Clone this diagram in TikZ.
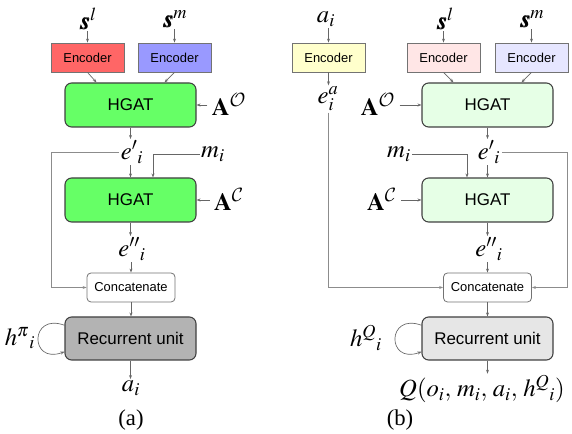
\documentclass[tikz,border=0pt]{standalone}
\usepackage{amsmath}
\usepackage{mathptmx}
\usepackage{bm}
\DeclareMathAlphabet{\mathcal}{OMS}{cmsy}{m}{n}
\usepackage{fontspec}
\setmainfont{Liberation Serif}
\newfontfamily\arial{Liberation Sans}
\usetikzlibrary{arrows.meta,calc}
\definecolor{encRed}{HTML}{FF6666}
\definecolor{encBlue}{HTML}{9999FF}
\definecolor{hgGreen}{HTML}{66FF66}
\definecolor{recGray}{HTML}{B3B3B3}
\definecolor{encYel}{HTML}{FFFFCC}
\definecolor{encPink}{HTML}{FFE6E6}
\definecolor{encLav}{HTML}{E6E6FF}
\definecolor{hgLight}{HTML}{E6FFE6}
\definecolor{recLight}{HTML}{E6E6E6}
\begin{document}
\begin{tikzpicture}[x=0.75pt,y=-0.75pt,
  enc/.style={draw=black!55, line width=0.6pt, inner sep=0pt, minimum width=54.75pt, minimum height=21.75pt, font=\arial\fontsize{9.7}{11}\selectfont},
  big/.style={draw=black!75, line width=0.8pt, rounded corners=5pt, inner sep=0pt, minimum width=98.25pt, minimum height=33pt, font=\arial\fontsize{12.7}{15}\selectfont},
  cat/.style={draw=black!55, line width=0.6pt, rounded corners=3pt, inner sep=0pt, minimum width=66pt, minimum height=21.75pt, font=\arial\fontsize{9.7}{11}\selectfont},
  lab/.style={inner sep=1pt, font=\fontsize{18.5}{22}\selectfont},
  captxt/.style={inner sep=1pt, font=\fontsize{17}{20}\selectfont},
  conn/.style={draw=black!60, line width=0.5pt},
  arr/.style={conn, -{Stealth[length=3pt,width=2.2pt]}},
  longl/.style={draw=black!45, line width=0.7pt, -{Stealth[length=3pt,width=2.2pt]}}
]
\useasboundingbox (0,0) rectangle (572,434);

% ---------------- panel (a) ----------------
\node[enc, fill=encRed] (encLa) at (87.5,57.5) {Encoder};
\node[enc, fill=encBlue] (encMa) at (174.5,57.5) {Encoder};
\node[big, fill=hgGreen] (hg1a) at (130.5,105) {HGAT};
\node[big, fill=hgGreen] (hg2a) at (130.5,200) {HGAT};
\node[cat, fill=white] (cata) at (131,287.5) {Concatenate};
\node[big, fill=recGray, minimum height=32.25pt] (reca) at (130.5,338.5) {Recurrent unit};

\node[lab] (sla) at (88,19) {$\bm{s}^{l}$};
\node[lab] (sma) at (175,19) {$\bm{s}^{m}$};
\node[lab] (Aoa) at (229,104) {$\mathbf{A}^{\mathcal{O}}$};
\node[lab] (Aca) at (229,199) {$\mathbf{A}^{\mathcal{C}}$};
\node[lab] (epa) at (132,152) {${e'}_{i}$};
\node[lab] (mia) at (213,154) {$m_{i}$};
\node[lab] (eppa) at (132,249) {${e''}_{i}$};
\node[lab] (ha) at (20,338) {${h^{\pi}}_{i}$};
\node[lab] (aa) at (131,388) {$a_{i}$};
\node[captxt] (capa) at (131,420) {(a)};

\coordinate (leftA) at (51,153);
\coordinate (mA) at (153,153);

\draw[arr] (sla.south -| encLa) -- (encLa.north);
\draw[arr] (sma.south -| encMa) -- (encMa.north);
\draw[arr] (encLa.south) -- ($(hg1a.north)+(-34,0)$);
\draw[arr] (encMa.south) -- ($(hg1a.north)+(34,0)$);
\draw[arr] (Aoa.west |- hg1a.east) ++(-3,0) -- (hg1a.east);
\draw[arr] (Aca.west |- hg2a.east) ++(-3,0) -- (hg2a.east);
\draw[arr] (hg1a.south) -- (hg1a.south |- epa.north);
\draw[arr] (epa.south -| hg2a.north) -- (hg2a.north);
\draw[arr] (mia.west) -- (mia.west -| mA) -- (mA |- hg2a.north);
\draw[longl] (epa.west) -- (epa.west -| leftA) |- (cata.west);
\draw[arr] (hg2a.south) -- (hg2a.south |- eppa.north);
\draw[arr] (eppa.south -| cata.north) -- (cata.north);
\draw[arr] (cata.south) -- (cata.south |- reca.north);
\draw[arr] (reca.south) -- (reca.south |- aa.north);
\draw[arr] ($(reca.north west)!0.2!(reca.south west)$) .. controls +(-35,-13) and +(-35,13) .. ($(reca.north west)!0.8!(reca.south west)$);

% ---------------- panel (b) ----------------
\node[enc, fill=encYel] (encAb) at (328.5,57.5) {Encoder};
\node[enc, fill=encPink] (encLb) at (443.5,57.5) {Encoder};
\node[enc, fill=encLav] (encMb) at (531.5,57.5) {Encoder};
\node[big, fill=hgLight] (hg1b) at (487.5,105) {HGAT};
\node[big, fill=hgLight] (hg2b) at (487.5,200) {HGAT};
\node[cat, fill=white] (catb) at (487.5,287.5) {Concatenate};
\node[big, fill=recLight, minimum height=32.25pt] (recb) at (487.5,338.5) {Recurrent unit};

\node[lab] (aib) at (326,19) {$a_{i}$};
\node[lab] (slb) at (445,19) {$\bm{s}^{l}$};
\node[lab] (smb) at (532,19) {$\bm{s}^{m}$};
\node[lab] (eab) at (328,99) {$e^{a}_{i}$};
\node[lab] (Aob) at (378,104) {$\mathbf{A}^{\mathcal{O}}$};
\node[lab] (Acb) at (382,199) {$\mathbf{A}^{\mathcal{C}}$};
\node[lab] (epb) at (489,152) {${e'}_{i}$};
\node[lab] (mib) at (399,154) {$m_{i}$};
\node[lab] (eppb) at (489,249) {${e''}_{i}$};
\node[lab] (hb) at (366,338) {${h^{Q}}_{i}$};
\node[lab] (Qb) at (482,389) {$Q(o_{i},\, m_{i},\, a_{i},\, {h^{Q}}_{i})$};
\node[captxt] (capb) at (400,420) {(b)};

\coordinate (rightB) at (567,153);
\coordinate (mB) at (467,153);

\draw[arr] (aib.south -| encAb) -- (encAb.north);
\draw[arr] (slb.south -| encLb) -- (encLb.north);
\draw[arr] (smb.south -| encMb) -- (encMb.north);
\draw[arr] (encLb.south) -- ($(hg1b.north)+(-34,0)$);
\draw[arr] (encMb.south) -- ($(hg1b.north)+(34,0)$);
\draw[arr] (encAb.south) -- (encAb.south |- eab.north);
\draw[longl] (eab.south -| encAb) |- (catb.west);
\draw[arr] (Aob.east |- hg1b.west) ++(3,0) -- (hg1b.west);
\draw[arr] (Acb.east |- hg2b.west) ++(3,0) -- (hg2b.west);
\draw[arr] (hg1b.south) -- (hg1b.south |- epb.north);
\draw[arr] (epb.south -| hg2b.north) -- (hg2b.north);
\draw[arr] (mib.east) -- (mib.east -| mB) -- (mB |- hg2b.north);
\draw[longl] (epb.east) -- (epb.east -| rightB) |- (catb.east);
\draw[arr] (hg2b.south) -- (hg2b.south |- eppb.north);
\draw[arr] (eppb.south -| catb.north) -- (catb.north);
\draw[arr] (catb.south) -- (catb.south |- recb.north);
\draw[arr] (recb.south) -- (recb.south |- Qb.north);
\draw[arr] ($(recb.north west)!0.2!(recb.south west)$) .. controls +(-35,-13) and +(-35,13) .. ($(recb.north west)!0.8!(recb.south west)$);
\end{tikzpicture}
\end{document}
